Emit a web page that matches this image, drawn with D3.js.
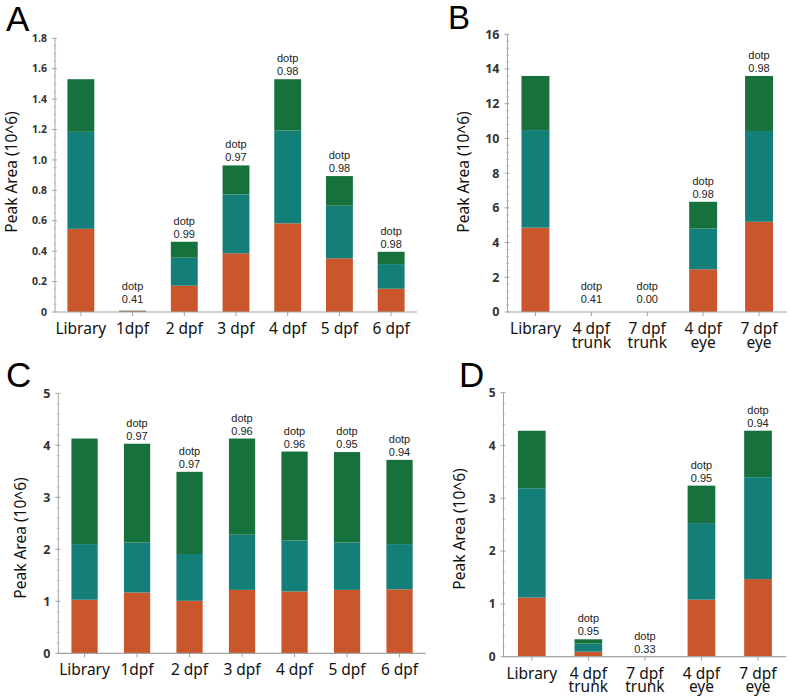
<!DOCTYPE html>
<html>
<head>
<meta charset="utf-8">
<script src="https://cdn.jsdelivr.net/npm/d3@7"></script>
<style>
  html, body { margin: 0; padding: 0; background: #fff; }
  svg { display: block; }
</style>
</head>
<body>
<svg id="chart" width="790" height="699"></svg>
<script>
// ---------------- DATA ----------------
// Panel A
const catsA   = ["Library", "1dpf", "2 dpf", "3 dpf", "4 dpf", "5 dpf", "6 dpf"];
const orangeA = [0.547, 0.006, 0.173, 0.386, 0.583, 0.353, 0.153];
const tealA   = [0.638, 0.002, 0.184, 0.387, 0.611, 0.346, 0.162];
const greenA  = [0.346, 0.001, 0.105, 0.191, 0.337, 0.195, 0.081];
const dotpA   = [null, "0.41", "0.99", "0.97", "0.98", "0.98", "0.98"];
const ticksA  = [0, 0.2, 0.4, 0.6, 0.8, 1.0, 1.2, 1.4, 1.6, 1.8];

// Panel B
const catsB   = ["Library", "4 dpf\ntrunk", "7 dpf\ntrunk", "4 dpf\neye", "7 dpf\neye"];
const orangeB = [4.86, 0, 0, 2.46, 5.20];
const tealB   = [5.62, 0, 0, 2.36, 5.23];
const greenB  = [3.12, 0, 0, 1.53, 3.17];
const dotpB   = [null, "0.41", "0.00", "0.98", "0.98"];
const ticksB  = [0, 2, 4, 6, 8, 10, 12, 14, 16];

// Panel C
const catsC   = ["Library", "1dpf", "2 dpf", "3 dpf", "4 dpf", "5 dpf", "6 dpf"];
const orangeC = [1.03, 1.17, 1.01, 1.22, 1.19, 1.22, 1.23];
const tealC   = [1.07, 0.96, 0.90, 1.06, 0.98, 0.91, 0.87];
const greenC  = [2.03, 1.90, 1.58, 1.85, 1.71, 1.74, 1.62];
const dotpC   = [null, "0.97", "0.97", "0.96", "0.96", "0.95", "0.94"];
const ticksC  = [0, 1, 2, 3, 4, 5];

// Panel D
const catsD   = ["Library", "4 dpf\ntrunk", "7 dpf\ntrunk", "4 dpf\neye", "7 dpf\neye"];
const orangeD = [1.12, 0.095, 0, 1.08, 1.47];
const tealD   = [2.07, 0.155, 0, 1.45, 1.93];
const greenD  = [1.09, 0.080, 0, 0.71, 0.88];
const dotpD   = [null, "0.95", "0.33", "0.95", "0.94"];
const ticksD  = [0, 1, 2, 3, 4, 5];

const seriesKeys = ["orange", "teal", "green"];
const colors = { orange: "#c9572b", teal: "#147e79", green: "#17713c" };

// ---------------- LAYOUT ----------------
const panels = [
  { letter: "A", cats: catsA, orange: orangeA, teal: tealA, green: greenA, dotp: dotpA, ticks: ticksA,
    fmt: d => d === 0 ? "0" : d3.format(".1f")(d), minor: 4,
    left: 55, right: 417, top: 38.3, bottom: 312, pad: 0.48, tickFont: 10.5,
    letterPos: [6, 31], letterSize: 35, titlePos: [12, 172], minLift: 9 },
  { letter: "B", cats: catsB, orange: orangeB, teal: tealB, green: greenB, dotp: dotpB, ticks: ticksB,
    fmt: d3.format("d"), minor: 5,
    left: 507.5, right: 787, top: 34.3, bottom: 312, pad: 0.5, tickFont: 12.5,
    letterPos: [448, 29], letterSize: 33, titlePos: [464, 172], minLift: 9 },
  { letter: "C", cats: catsC, orange: orangeC, teal: tealC, green: greenC, dotp: dotpC, ticks: ticksC,
    fmt: d3.format("d"), minor: 5,
    left: 58.3, right: 425.8, top: 393.3, bottom: 653.3, pad: 0.5, tickFont: 12.5,
    letterPos: [6, 387], letterSize: 35, titlePos: [21, 538], minLift: 0 },
  { letter: "D", cats: catsD, orange: orangeD, teal: tealD, green: greenD, dotp: dotpD, ticks: ticksD,
    fmt: d3.format("d"), minor: 5,
    left: 503.5, right: 786.3, top: 392.7, bottom: 656.7, pad: 0.51, tickFont: 12,
    letterPos: [459, 387], letterSize: 35, titlePos: [460, 529], minLift: 3 }
];

const svg = d3.select("#chart");
const axisColor = "#a3a3a3";
const labelFont = "'Noto Sans', 'Open Sans', sans-serif";
const smallFont = "'Liberation Sans', Arial, sans-serif";

panels.forEach(p => {
  const g = svg.append("g");
  const yMax = p.ticks[p.ticks.length - 1];
  const x = d3.scaleBand().domain(d3.range(p.cats.length))
    .range([p.left, p.right]).paddingInner(p.pad).paddingOuter(p.pad / 2);
  const y = d3.scaleLinear().domain([0, yMax]).range([p.bottom, p.top]);

  // stacked data
  const rows = p.cats.map((c, i) => ({ i, orange: p.orange[i], teal: p.teal[i], green: p.green[i] }));
  const stack = d3.stack().keys(seriesKeys)(rows);

  // bars
  g.selectAll("g.layer").data(stack).join("g")
    .attr("fill", d => colors[d.key])
    .selectAll("rect").data(d => d).join("rect")
    .attr("x", d => x(d.data.i))
    .attr("width", x.bandwidth())
    .attr("y", d => y(d[1]))
    .attr("height", d => Math.max(0, y(d[0]) - y(d[1])));

  // y axis with minor ticks
  const step = p.ticks[1] - p.ticks[0];
  const minorTicks = [];
  for (let k = 0; k < p.ticks.length - 1; k++) {
    for (let m = 1; m < p.minor; m++) minorTicks.push(p.ticks[k] + step * m / p.minor);
  }
  const ya = g.append("g").attr("transform", `translate(${p.left},0)`);
  ya.append("line").attr("x1", 0).attr("x2", 0).attr("y1", y(yMax)).attr("y2", y(0))
    .attr("stroke", axisColor).attr("stroke-width", 1);
  ya.selectAll("line.minor").data(minorTicks).join("line").attr("class", "minor")
    .attr("x1", -1.5).attr("x2", 1.5).attr("y1", d => y(d)).attr("y2", d => y(d))
    .attr("stroke", "#b5b5b5").attr("stroke-width", 0.8);
  ya.selectAll("line.major").data(p.ticks).join("line").attr("class", "major")
    .attr("x1", -3).attr("x2", 2).attr("y1", d => y(d)).attr("y2", d => y(d))
    .attr("stroke", axisColor).attr("stroke-width", 1);
  ya.selectAll("text").data(p.ticks).join("text")
    .attr("x", -8).attr("y", d => y(d)).attr("dy", "0.35em")
    .attr("text-anchor", "end")
    .attr("font-family", "'Open Sans', sans-serif").attr("font-weight", "bold")
    .attr("font-size", p.tickFont).attr("fill", "#333")
    .text(p.fmt);

  // x axis
  const xa = g.append("g");
  xa.append("line").attr("x1", p.left).attr("x2", p.right).attr("y1", p.bottom).attr("y2", p.bottom)
    .attr("stroke", axisColor).attr("stroke-width", 1.2);
  xa.selectAll("line.xt").data(d3.range(p.cats.length)).join("line").attr("class", "xt")
    .attr("x1", i => x(i) + x.bandwidth() / 2).attr("x2", i => x(i) + x.bandwidth() / 2)
    .attr("y1", p.bottom).attr("y2", p.bottom + 4)
    .attr("stroke", axisColor).attr("stroke-width", 1);
  p.cats.forEach((d, i) => {
    const cx = x(i) + x.bandwidth() / 2;
    d.split("\n").forEach((ln, k) => {
      xa.append("text")
        .attr("x", cx).attr("y", p.bottom + 22 + k * 13.5)
        .attr("text-anchor", "middle")
        .attr("font-family", labelFont).attr("font-size", 15.5).attr("fill", "#111")
        .text(ln);
    });
  });

  // dotp labels
  p.dotp.forEach((v, i) => {
    if (v === null) return;
    const total = p.orange[i] + p.teal[i] + p.green[i];
    const yy = Math.min(y(total) - 4, p.bottom - p.minLift);
    const cx = x(i) + x.bandwidth() / 2;
    g.append("text").attr("x", cx).attr("y", yy - 13).attr("text-anchor", "middle")
      .attr("font-family", smallFont).attr("font-size", 11).attr("fill", "#222").text("dotp");
    g.append("text").attr("x", cx).attr("y", yy).attr("text-anchor", "middle")
      .attr("font-family", smallFont).attr("font-size", 11).attr("fill", "#222").text(v);
  });

  // y title
  g.append("text")
    .attr("transform", `translate(${p.titlePos[0]},${p.titlePos[1]}) rotate(-90)`)
    .attr("text-anchor", "middle").attr("dy", "0.35em")
    .attr("font-family", labelFont).attr("font-size", 15.5).attr("fill", "#111")
    .text("Peak Area (10^6)");

  // panel letter
  g.append("text")
    .attr("x", p.letterPos[0]).attr("y", p.letterPos[1])
    .attr("font-family", smallFont).attr("font-size", p.letterSize).attr("fill", "#000")
    .text(p.letter);
});
</script>
</body>
</html>
